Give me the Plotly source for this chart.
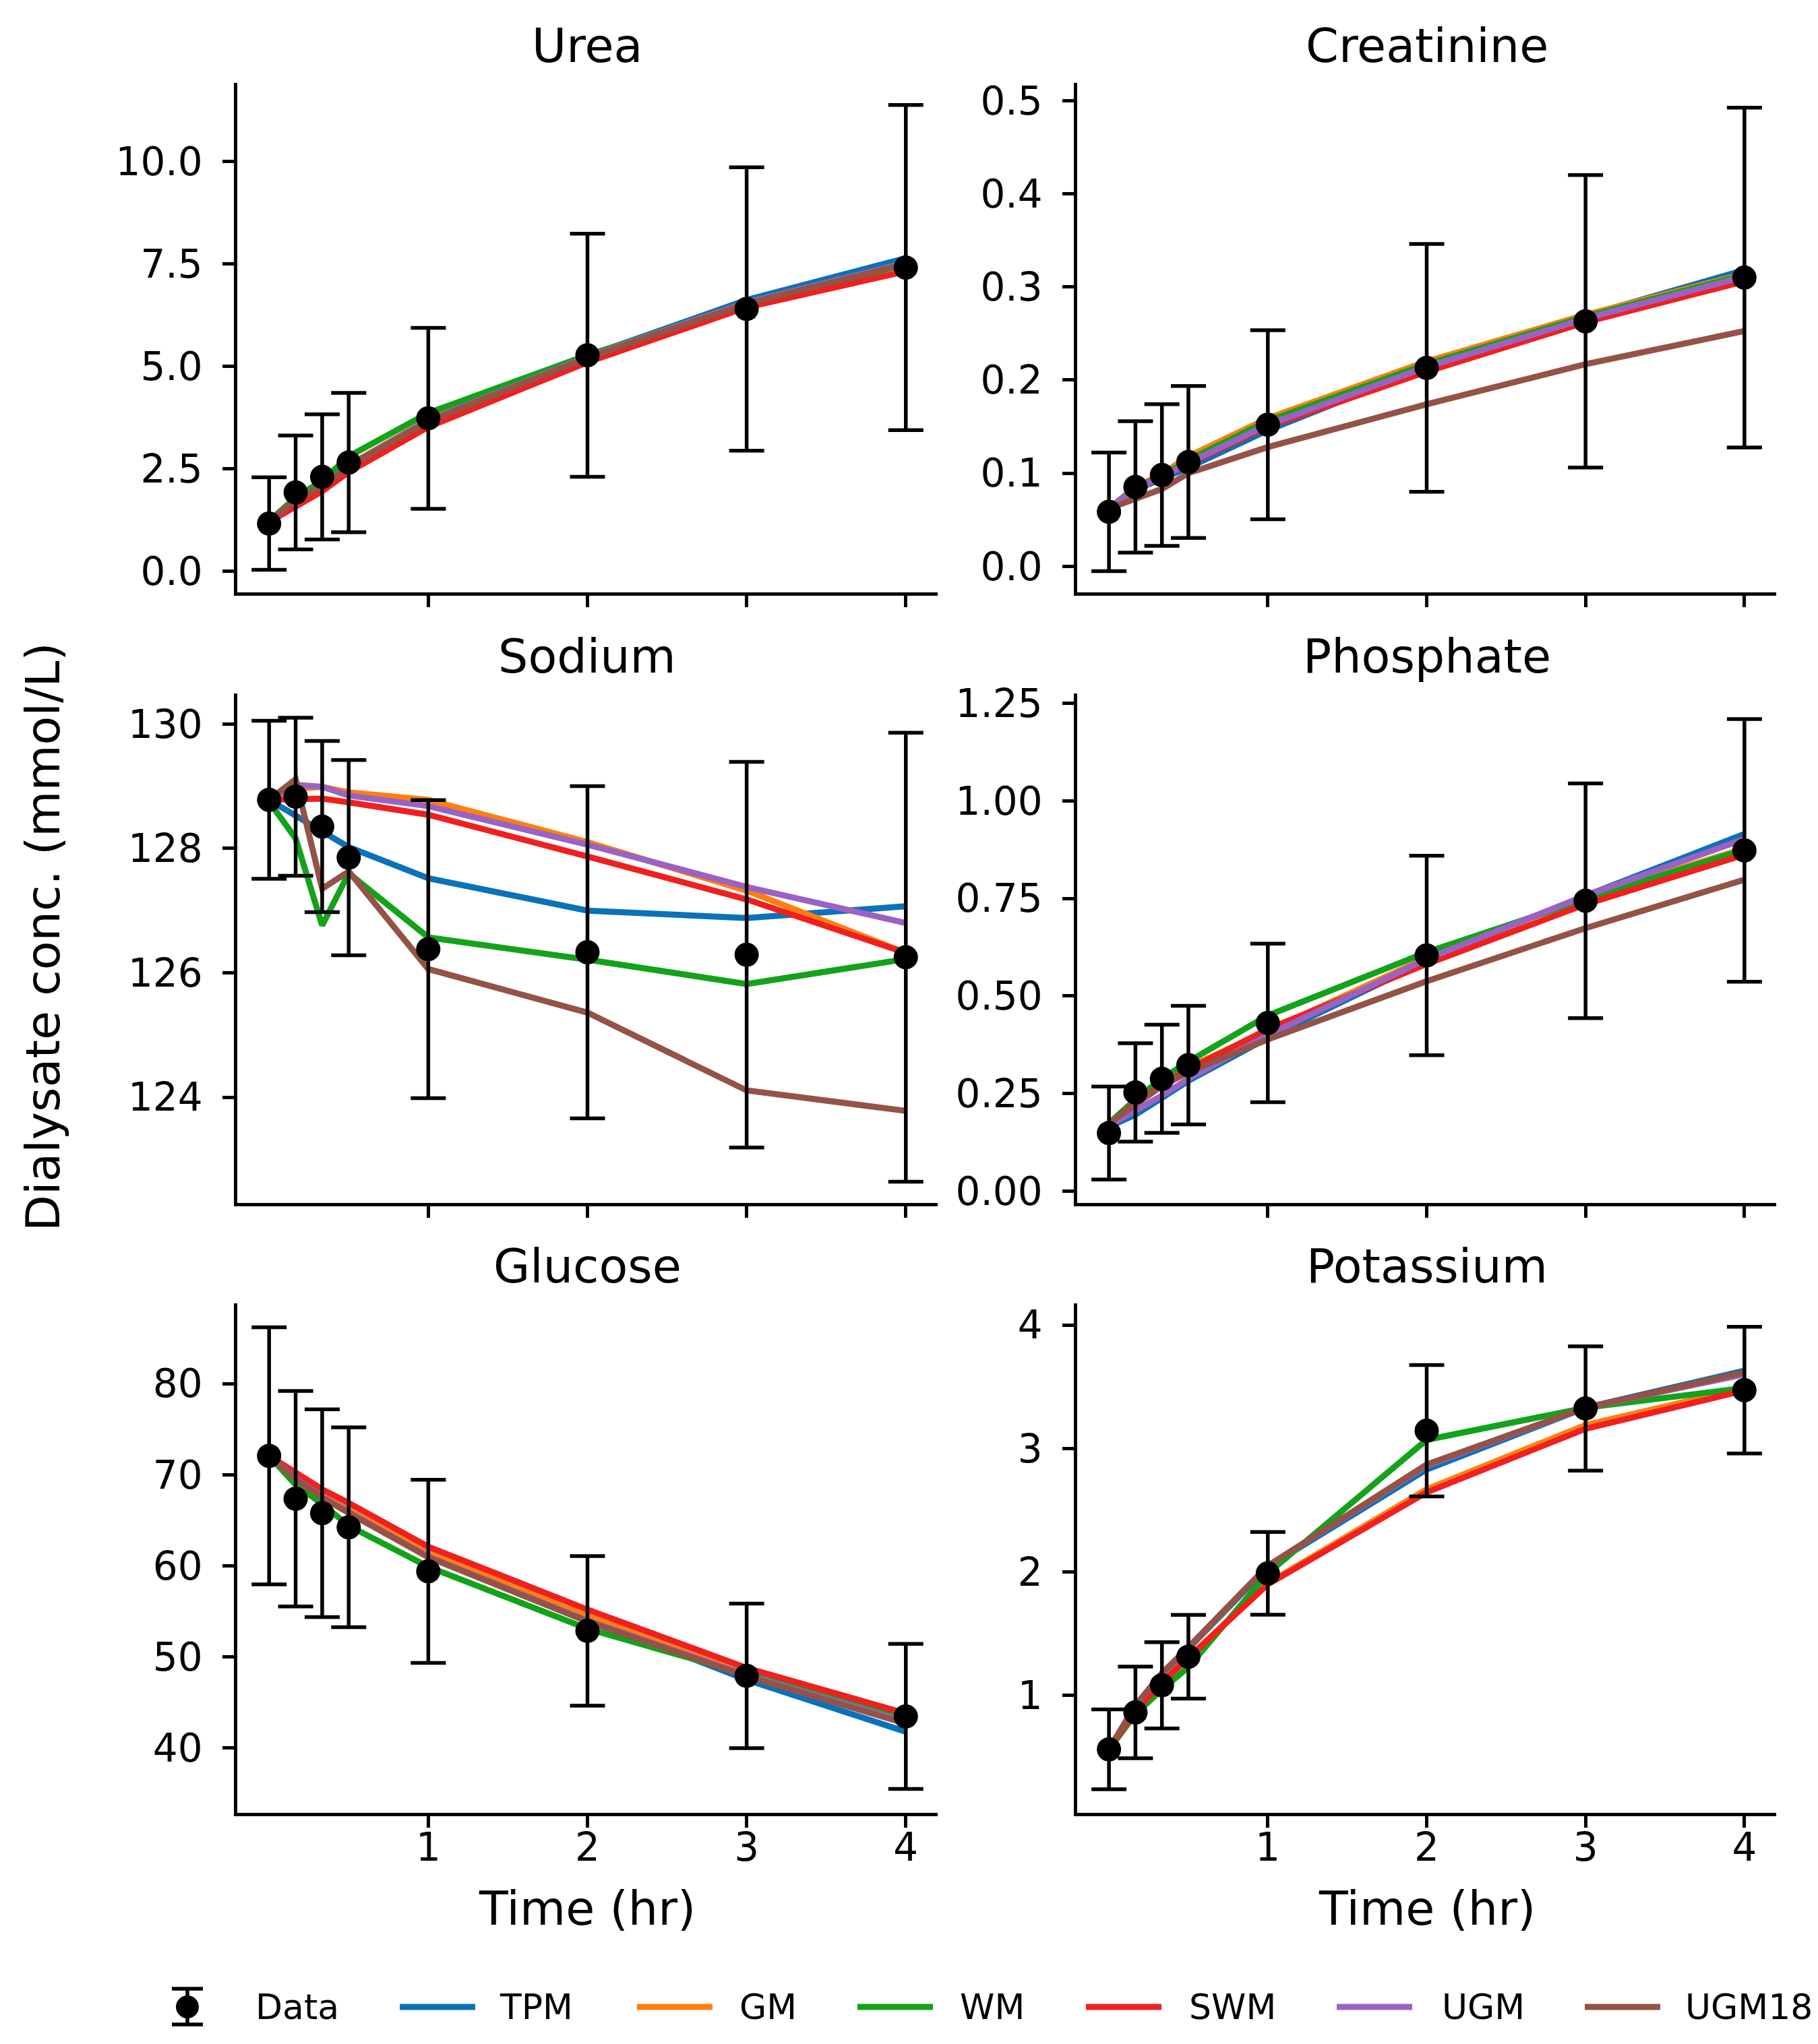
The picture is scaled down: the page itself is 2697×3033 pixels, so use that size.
import plotly.graph_objects as go
from plotly.subplots import make_subplots

W, H = 2697, 3033

time_hr = [0, 1 / 6, 1 / 3, 0.5, 1, 2, 3, 4]
model_names = ["TPM", "GM", "WM", "SWM", "UGM", "UGM18"]
model_colors = ["#0a72b8", "#ff7f0e", "#12a31a", "#f0201f", "#9a62c3", "#955246"]

# Urea
urea_data = [1.16, 1.92, 2.30, 2.65, 3.73, 5.27, 6.40, 7.41]
urea_err = [1.13, 1.39, 1.53, 1.70, 2.21, 2.97, 3.46, 3.97]
urea_tpm = [1.22, 1.75, 2.10, 2.58, 3.70, 5.25, 6.62, 7.64]
urea_gm = [1.22, 1.74, 2.09, 2.58, 3.70, 5.24, 6.55, 7.52]
urea_wm = [1.22, 1.80, 2.20, 2.80, 3.86, 5.27, 6.52, 7.48]
urea_swm = [1.20, 1.58, 1.95, 2.42, 3.52, 5.10, 6.44, 7.32]
urea_ugm = [1.22, 1.74, 2.08, 2.57, 3.68, 5.23, 6.55, 7.52]
urea_ugm18 = [1.22, 1.73, 2.07, 2.56, 3.66, 5.21, 6.53, 7.50]

# Creatinine
creat_data = [0.0585, 0.0852, 0.098, 0.112, 0.152, 0.213, 0.263, 0.310]
creat_err = [0.0637, 0.0706, 0.076, 0.0815, 0.1015, 0.133, 0.157, 0.1825]
creat_tpm = [0.062, 0.082, 0.094, 0.106, 0.146, 0.214, 0.269, 0.318]
creat_gm = [0.062, 0.085, 0.099, 0.118, 0.159, 0.220, 0.270, 0.314]
creat_wm = [0.062, 0.084, 0.097, 0.114, 0.156, 0.217, 0.268, 0.313]
creat_swm = [0.062, 0.083, 0.096, 0.110, 0.150, 0.209, 0.262, 0.306]
creat_ugm = [0.062, 0.083, 0.096, 0.111, 0.152, 0.214, 0.266, 0.311]
creat_ugm18 = [0.062, 0.072, 0.083, 0.100, 0.128, 0.174, 0.217, 0.2526]

# Sodium
sodium_data = [128.78, 128.83, 128.35, 127.85, 126.38, 126.33, 126.29, 126.25]
sodium_err = [1.27, 1.27, 1.375, 1.57, 2.395, 2.67, 3.10, 3.61]
sodium_tpm = [128.78, 128.52, 128.27, 128.02, 127.52, 127.00, 126.88, 127.07]
sodium_gm = [128.78, 128.96, 128.99, 128.90, 128.78, 128.10, 127.32, 126.32]
sodium_wm = [128.75, 128.16, 126.76, 127.60, 126.57, 126.21, 125.82, 126.22]
sodium_swm = [128.78, 128.80, 128.80, 128.74, 128.54, 127.87, 127.18, 126.32]
sodium_ugm = [128.78, 129.02, 128.99, 128.85, 128.68, 128.06, 127.38, 126.80]
sodium_ugm18 = [128.78, 129.11, 127.35, 127.63, 126.06, 125.36, 124.11, 123.78]

# Phosphate
phos_data = [0.149, 0.253, 0.288, 0.323, 0.431, 0.604, 0.744, 0.873]
phos_err = [0.119, 0.126, 0.1385, 0.152, 0.203, 0.2555, 0.3005, 0.3365]
phos_tpm = [0.165, 0.196, 0.239, 0.283, 0.393, 0.590, 0.757, 0.915]
phos_gm = [0.172, 0.228, 0.276, 0.318, 0.410, 0.598, 0.752, 0.878]
phos_wm = [0.174, 0.235, 0.288, 0.332, 0.450, 0.612, 0.748, 0.875]
phos_swm = [0.172, 0.226, 0.272, 0.312, 0.415, 0.582, 0.735, 0.862]
phos_ugm = [0.168, 0.205, 0.245, 0.288, 0.400, 0.595, 0.757, 0.902]
phos_ugm18 = [0.174, 0.222, 0.270, 0.305, 0.389, 0.538, 0.674, 0.798]

# Glucose
gluc_data = [72.07, 67.36, 65.78, 64.23, 59.40, 52.87, 47.93, 43.48]
gluc_err = [14.1, 11.82, 11.4, 10.96, 10.05, 8.21, 7.93, 7.96]
gluc_tpm = [72.07, 69.9, 68.0, 66.3, 61.5, 54.3, 47.5, 41.8]
gluc_gm = [72.07, 70.0, 68.1, 66.4, 61.5, 54.5, 48.6, 43.1]
gluc_wm = [72.07, 68.9, 66.8, 64.4, 59.9, 53.1, 48.1, 43.5]
gluc_swm = [72.07, 70.3, 68.4, 66.9, 62.1, 55.2, 48.8, 43.8]
gluc_ugm = [72.07, 69.6, 67.6, 65.9, 61.0, 54.0, 48.0, 42.9]
gluc_ugm18 = [72.07, 69.5, 67.5, 65.8, 60.95, 53.9, 47.9, 42.7]

# Potassium
pot_data = [0.564, 0.863, 1.083, 1.314, 1.989, 3.144, 3.324, 3.472]
pot_err = [0.323, 0.371, 0.349, 0.339, 0.335, 0.532, 0.5035, 0.513]
pot_tpm = [0.564, 0.91, 1.17, 1.38, 2.04, 2.83, 3.33, 3.63]
pot_gm = [0.564, 0.88, 1.11, 1.31, 1.91, 2.67, 3.19, 3.49]
pot_wm = [0.564, 0.85, 1.05, 1.23, 1.99, 3.07, 3.33, 3.49]
pot_swm = [0.564, 0.877, 1.105, 1.305, 1.90, 2.645, 3.16, 3.47]
pot_ugm = [0.564, 0.92, 1.177, 1.39, 2.05, 2.86, 3.33, 3.60]
pot_ugm18 = [0.564, 0.92, 1.18, 1.39, 2.05, 2.87, 3.33, 3.615]

x_ticks = [1, 2, 3, 4]
urea_ticks = [0, 2.5, 5, 7.5, 10]
urea_labels = ["0.0", "2.5", "5.0", "7.5", "10.0"]
creat_ticks = [0, 0.1, 0.2, 0.3, 0.4, 0.5]
creat_labels = ["0.0", "0.1", "0.2", "0.3", "0.4", "0.5"]
sodium_ticks = [124, 126, 128, 130]
sodium_labels = ["124", "126", "128", "130"]
phos_ticks = [0, 0.25, 0.5, 0.75, 1.0, 1.25]
phos_labels = ["0.00", "0.25", "0.50", "0.75", "1.00", "1.25"]
gluc_ticks = [40, 50, 60, 70, 80]
gluc_labels = ["40", "50", "60", "70", "80"]
pot_ticks = [1, 2, 3, 4]
pot_labels = ["1", "2", "3", "4"]

FONT = "DejaVu Sans"
TICK_SIZE = 58
TITLE_SIZE = 70
LEGEND_SIZE = 52
LINE_W = 9
ERR_W = 5.5

# panel: title, row, col, data, err, model series, y range, ticks, labels
panels = [
    ("Urea", 1, 1, urea_data, urea_err,
     [urea_tpm, urea_gm, urea_wm, urea_swm, urea_ugm, urea_ugm18],
     [-0.52, 11.92], urea_ticks, urea_labels),
    ("Creatinine", 1, 2, creat_data, creat_err,
     [creat_tpm, creat_gm, creat_wm, creat_swm, creat_ugm, creat_ugm18],
     [-0.028, 0.519], creat_ticks, creat_labels),
    ("Sodium", 2, 1, sodium_data, sodium_err,
     [sodium_tpm, sodium_gm, sodium_wm, sodium_swm, sodium_ugm, sodium_ugm18],
     [122.3, 130.49], sodium_ticks, sodium_labels),
    ("Phosphate", 2, 2, phos_data, phos_err,
     [phos_tpm, phos_gm, phos_wm, phos_swm, phos_ugm, phos_ugm18],
     [-0.03, 1.275], phos_ticks, phos_labels),
    ("Glucose", 3, 1, gluc_data, gluc_err,
     [gluc_tpm, gluc_gm, gluc_wm, gluc_swm, gluc_ugm, gluc_ugm18],
     [32.9, 88.8], gluc_ticks, gluc_labels),
    ("Potassium", 3, 2, pot_data, pot_err,
     [pot_tpm, pot_gm, pot_wm, pot_swm, pot_ugm, pot_ugm18],
     [0.05, 4.175], pot_ticks, pot_labels),
]


def fx(p):
    return p / W


def fy(p):
    return 1 - p / H


col_dom = {1: [fx(344), fx(1383)], 2: [fx(1590), fx(2627)]}
row_dom = {1: [fy(871), fy(115)], 2: [fy(1777), fy(1021)], 3: [fy(2682), fy(1926)]}

fig = make_subplots(rows=3, cols=2)

annotations = []
for title, r, c, data, err, series, yr, yt, yl in panels:
    for name, color, vals in zip(model_names, model_colors, series):
        fig.add_trace(go.Scatter(
            x=time_hr, y=vals, mode="lines", name=name,
            line=dict(color=color, width=LINE_W), showlegend=False
        ), row=r, col=c)
    fig.add_trace(go.Scatter(
        x=time_hr, y=data, mode="markers", name="Data",
        marker=dict(color="black", size=36),
        error_y=dict(type="data", array=err, visible=True,
                     color="black", thickness=ERR_W, width=26),
        showlegend=False
    ), row=r, col=c)

    fig.update_xaxes(
        domain=col_dom[c], range=[-0.2, 4.2], tickvals=x_ticks,
        showticklabels=(r == 3), ticks="outside", ticklen=17, tickwidth=4.5,
        tickcolor="black", showline=True, linecolor="black", linewidth=4.5,
        showgrid=False, zeroline=False, ticklabelstandoff=-20,
        automargin=False,
        tickfont=dict(family=FONT, size=TICK_SIZE, color="black"),
        row=r, col=c)
    fig.update_yaxes(
        domain=row_dom[r], range=yr, tickvals=yt, ticktext=yl,
        ticks="outside", ticklen=17, tickwidth=4.5, tickcolor="black",
        showline=True, linecolor="black", linewidth=4.5,
        showgrid=False, zeroline=False, ticklabelstandoff=18,
        automargin=False,
        tickfont=dict(family=FONT, size=TICK_SIZE, color="black"),
        row=r, col=c)

    annotations.append(dict(
        text=title, x=sum(col_dom[c]) / 2, y=row_dom[r][1],
        xref="paper", yref="paper", xanchor="center", yanchor="bottom",
        yshift=12, showarrow=False,
        font=dict(family=FONT, size=TITLE_SIZE, color="black")))

for c in (1, 2):
    annotations.append(dict(
        text="Time (hr)", x=sum(col_dom[c]) / 2, y=fy(2824),
        xref="paper", yref="paper", xanchor="center", yanchor="middle",
        showarrow=False,
        font=dict(family=FONT, size=TITLE_SIZE, color="black")))

annotations.append(dict(
    text="Dialysate conc. (mmol/L)", x=fx(56), y=fy(1382),
    xref="paper", yref="paper", xanchor="center", yanchor="middle",
    textangle=-90, showarrow=False,
    font=dict(family=FONT, size=TITLE_SIZE, color="black")))

# legend drawn along the bottom
shapes = []
leg_y = 2970
mx = 270
shapes.append(dict(type="line", xref="paper", yref="paper",
                   x0=fx(mx), x1=fx(mx), y0=fy(leg_y - 27), y1=fy(leg_y + 26),
                   line=dict(color="black", width=ERR_W)))
for cy in (leg_y - 27, leg_y + 26):
    shapes.append(dict(type="line", xref="paper", yref="paper",
                       x0=fx(mx - 23), x1=fx(mx + 23), y0=fy(cy), y1=fy(cy),
                       line=dict(color="black", width=ERR_W)))
shapes.append(dict(type="circle", xref="paper", yref="paper",
                   x0=fx(mx - 17), x1=fx(mx + 17), y0=fy(leg_y + 17), y1=fy(leg_y - 17),
                   fillcolor="black", line=dict(color="black", width=0)))
annotations.append(dict(
    text="Data", x=fx(369), y=fy(leg_y), xref="paper", yref="paper",
    xanchor="left", yanchor="middle", showarrow=False,
    font=dict(family=FONT, size=LEGEND_SIZE, color="black")))

leg_lines = [585, 937, 1264, 1603, 1975, 2343]
leg_text = [731, 1087, 1414, 1754, 2129, 2490]
for name, color, x0, xt in zip(model_names, model_colors, leg_lines, leg_text):
    shapes.append(dict(type="line", xref="paper", yref="paper",
                       x0=fx(x0), x1=fx(x0 + 112), y0=fy(leg_y), y1=fy(leg_y),
                       line=dict(color=color, width=LINE_W)))
    annotations.append(dict(
        text=name, x=fx(xt), y=fy(leg_y), xref="paper", yref="paper",
        xanchor="left", yanchor="middle", showarrow=False,
        font=dict(family=FONT, size=LEGEND_SIZE, color="black")))

fig.update_layout(
    width=W, height=H, autosize=False,
    margin=dict(l=0, r=0, t=0, b=0, autoexpand=False),
    paper_bgcolor="white", plot_bgcolor="white",
    font=dict(family=FONT, color="black"),
    showlegend=False,
    annotations=annotations,
    shapes=shapes,
)

fig.write_html("out.html")
